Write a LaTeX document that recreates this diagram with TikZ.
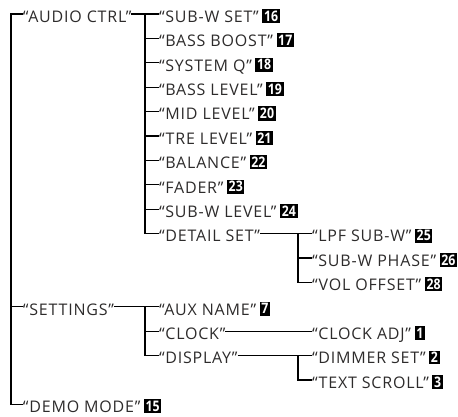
\documentclass[tikz,border=0pt]{standalone}
\usepackage{fontspec}
\setmainfont{Open Sans}[LetterSpace=5.0]
\definecolor{ink}{RGB}{45,43,43}
\newcommand{\badge}[1]{\hspace{3.5pt}\raisebox{1.2pt}{\setlength{\fboxsep}{1.7pt}\colorbox{black}{\addfontfeature{LetterSpace=0}\textcolor{white}{\fontsize{14.5}{14.5}\selectfont\bfseries\scalebox{0.85}[1]{#1}}}}}
\tikzset{
  item/.style={anchor=west, inner sep=0pt, outer sep=0pt, text=ink,
    font=\fontsize{16}{18}\selectfont, text height=16.6pt, text depth=0pt},
  link/.style={draw=black, line width=1.2pt}
}
\begin{document}
\begin{tikzpicture}[x=1pt,y=-1pt]
\useasboundingbox (0,0) rectangle (458,417);
% column 1
\node[item] (audio) at (23,14) {“AUDIO CTRL”};
\node[item] (settings) at (23,306.8) {“SETTINGS”};
\node[item] (demo) at (23,404.4) {“DEMO MODE”\badge{15}};
% column 2
\node[item] (subwset) at (159,14) {“SUB-W SET”\badge{16}};
\node[item] (bassboost) at (159,38.4) {“BASS BOOST”\badge{17}};
\node[item] (systemq) at (159,62.8) {“SYSTEM Q”\badge{18}};
\node[item] (basslevel) at (159,87.2) {“BASS LEVEL”\badge{19}};
\node[item] (midlevel) at (159,111.6) {“MID LEVEL”\badge{20}};
\node[item] (trelevel) at (159,136) {“TRE LEVEL”\badge{21}};
\node[item] (balance) at (159,160.4) {“BALANCE”\badge{22}};
\node[item] (fader) at (159,184.8) {“FADER”\badge{23}};
\node[item] (subwlevel) at (159,209.2) {“SUB-W LEVEL”\badge{24}};
\node[item] (detail) at (159,233.6) {“DETAIL SET”};
\node[item] (auxname) at (159,306.8) {“AUX NAME”\badge{7}};
\node[item] (clock) at (159,331.2) {“CLOCK”};
\node[item] (display) at (159,355.6) {“DISPLAY”};
% column 3
\node[item] (lpf) at (312,233.6) {“LPF SUB-W”\badge{25}};
\node[item] (phase) at (312,258) {“SUB-W PHASE”\badge{26}};
\node[item] (vol) at (312,282.4) {“VOL OFFSET”\badge{28}};
\node[item] (clockadj) at (312,331.2) {“CLOCK ADJ”\badge{1}};
\node[item] (dimmer) at (312,355.6) {“DIMMER SET”\badge{2}};
\node[item] (textscroll) at (312,380) {“TEXT SCROLL”\badge{3}};
% junction coordinates
\coordinate (r) at (11,14);
\coordinate (c2) at (145,14);
\coordinate (c3) at (298,233.6);
\coordinate (c2s) at (145,306.8);
\coordinate (c3d) at (298,355.6);
% connectors
\draw[link] (audio.west) -- (r) |- (demo.west);
\draw[link] (r |- settings.west) -- (settings.west);
\draw[link] (audio.east) -- (subwset.west);
\draw[link] (c2) |- (detail.west);
\foreach \n in {bassboost,systemq,basslevel,midlevel,trelevel,balance,fader,subwlevel}
  \draw[link] (c2 |- \n.west) -- (\n.west);
\draw[link] (detail.east) -- (lpf.west);
\draw[link] (c3) |- (vol.west);
\draw[link] (c3 |- phase.west) -- (phase.west);
\draw[link] (settings.east) -- (auxname.west);
\draw[link] (c2s) |- (display.west);
\draw[link] (c2s |- clock.west) -- (clock.west);
\draw[link] (clock.east) -- (clockadj.west);
\draw[link] (display.east) -- (dimmer.west);
\draw[link] (c3d) |- (textscroll.west);
\end{tikzpicture}
\end{document}
